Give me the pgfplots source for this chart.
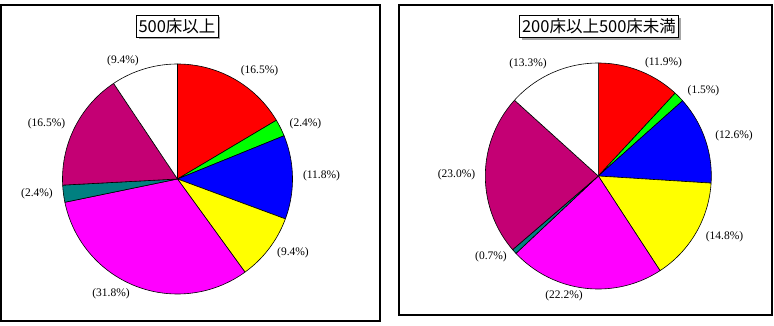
\documentclass[border=0pt]{standalone}
\usepackage{pgfplots}
\pgfplotsset{compat=1.18}
\usepackage{pgfplotstable}
\usetikzlibrary{shadows}
\usepackage{fontspec}
\setmainfont{Liberation Serif}
\newfontfamily\cjk{Noto Sans CJK JP}
\definecolor{cRed}{RGB}{255,0,0}
\definecolor{cGreen}{RGB}{0,255,0}
\definecolor{cBlue}{RGB}{0,0,255}
\definecolor{cYellow}{RGB}{255,255,0}
\definecolor{cMagenta}{RGB}{255,0,255}
\definecolor{cTeal}{RGB}{0,128,128}
\definecolor{cPlum}{RGB}{196,0,116}
\definecolor{cWhite}{RGB}{255,255,255}

\pgfplotstableread{
pct col
16.5 cRed
2.4 cGreen
11.8 cBlue
9.4 cYellow
31.8 cMagenta
2.4 cTeal
16.5 cPlum
9.4 cWhite
}\leftdata
\pgfplotstableread{
pct col
11.9 cRed
1.5 cGreen
12.6 cBlue
14.8 cYellow
22.2 cMagenta
0.7 cTeal
23.0 cPlum
13.3 cWhite
}\rightdata

% #1 table, #2 cx, #3 cy, #4 r
\newcommand\drawpie[4]{%
  \gdef\tot{0}%
  \pgfplotsforeachungrouped \i in {0,...,7} {%
    \pgfplotstablegetelem{\i}{pct}\of{#1}\let\val\pgfplotsretval
    \pgfmathsetmacro\nt{\tot+\val}\global\let\tot\nt
  }%
  \gdef\cum{0}%
  \pgfplotsforeachungrouped \i in {0,...,7} {%
    \pgfplotstablegetelem{\i}{pct}\of{#1}\let\val\pgfplotsretval
    \pgfplotstablegetelem{\i}{col}\of{#1}\let\col\pgfplotsretval
    \pgfmathsetmacro\aS{90-(\cum/\tot)*360}%
    \pgfmathsetmacro\aE{90-((\cum+\val)/\tot)*360}%
    \pgfmathsetmacro\nc{\cum+\val}\global\let\cum\nc
    \xdef\pts{(#2,#3)}%
    \foreach \k in {0,...,72} {%
      \pgfmathsetmacro\t{\aS+(\aE-\aS)*\k/72}%
      \pgfmathsetmacro\px{#2+#4*cos(\t)}%
      \pgfmathsetmacro\py{#3+#4*sin(\t)}%
      \xdef\pts{\pts (\px,\py)}%
    }%
    \xdef\pts{\pts (#2,#3)}%
    \edef\doit{\noexpand\addplot[draw=black, line width=0.6pt, line join=round, fill=\col, mark=none] coordinates {\pts};}%
    \doit
  }%
}

\newcommand\lbl{\fontsize{11.5bp}{12bp}\selectfont}

\begin{document}
\begin{tikzpicture}[x=1bp,y=1bp]
\path[use as bounding box] (0,0) rectangle (774,325);

% left panel
\begin{axis}[at={(1,4)}, anchor=south west, scale only axis,
  width=379bp, height=316bp, xmin=1, xmax=380, ymin=4, ymax=320,
  ticks=none, axis line style={line width=1.2pt}, clip=false]
  \drawpie{\leftdata}{177.5}{146}{115}
  \node[font=\lbl] at (axis cs:259.5,254) {(16.5\%)};
  \node[font=\lbl] at (axis cs:305.5,201) {(2.4\%)};
  \node[font=\lbl] at (axis cs:321.5,149) {(11.8\%)};
  \node[font=\lbl] at (axis cs:293,72) {(9.4\%)};
  \node[font=\lbl] at (axis cs:111,31) {(31.8\%)};
  \node[font=\lbl] at (axis cs:37,131) {(2.4\%)};
  \node[font=\lbl] at (axis cs:46.5,201) {(16.5\%)};
  \node[font=\lbl] at (axis cs:123,264) {(9.4\%)};
  \node[draw=black, line width=0.8pt, fill=white, inner xsep=2.5bp, inner ysep=0pt,
        minimum height=22bp, font=\cjk\fontsize{16.5bp}{17bp}\selectfont,
        drop shadow={shadow xshift=2.5bp, shadow yshift=-2.5bp, fill=gray!70, opacity=1}]
        at (axis cs:177,299) {500床以上};
\end{axis}

% right panel
\begin{axis}[at={(399,10)}, anchor=south west, scale only axis,
  width=373bp, height=310bp, xmin=399, xmax=772, ymin=10, ymax=320,
  ticks=none, axis line style={line width=1.2pt}, clip=false]
  \drawpie{\rightdata}{598.3}{149}{113}
  \node[font=\lbl] at (axis cs:663.5,262) {(11.9\%)};
  \node[font=\lbl] at (axis cs:703.5,234) {(1.5\%)};
  \node[font=\lbl] at (axis cs:734,189) {(12.6\%)};
  \node[font=\lbl] at (axis cs:724.5,88) {(14.8\%)};
  \node[font=\lbl] at (axis cs:564,29) {(22.2\%)};
  \node[font=\lbl] at (axis cs:491,68) {(0.7\%)};
  \node[font=\lbl] at (axis cs:456.5,150) {(23.0\%)};
  \node[font=\lbl] at (axis cs:528,261) {(13.3\%)};
  \node[draw=black, line width=0.8pt, fill=white, inner xsep=2.5bp, inner ysep=0pt,
        minimum height=22bp, font=\cjk\fontsize{16.5bp}{17bp}\selectfont,
        drop shadow={shadow xshift=2.5bp, shadow yshift=-2.5bp, fill=gray!70, opacity=1}]
        at (axis cs:599,298.5) {200床以上500床未満};
\end{axis}
\end{tikzpicture}
\end{document}
